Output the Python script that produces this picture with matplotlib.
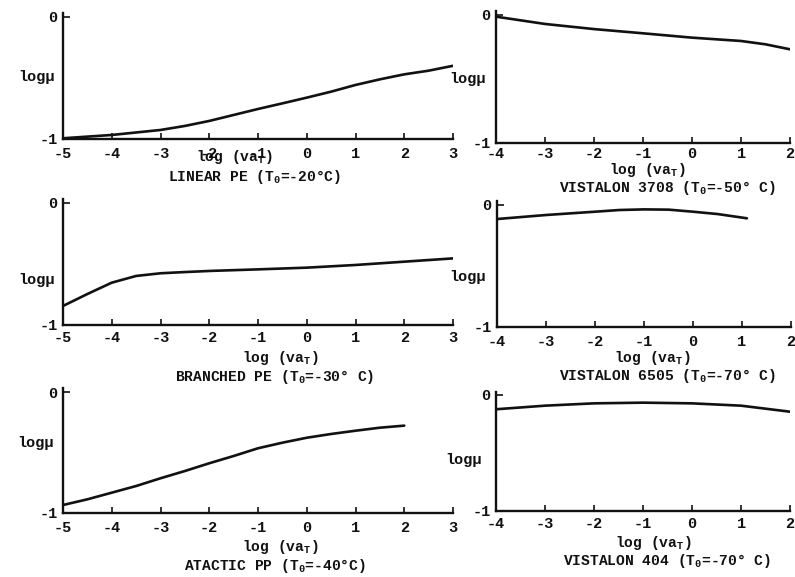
import matplotlib
matplotlib.use("Agg")
import matplotlib.pyplot as plt
from matplotlib.transforms import blended_transform_factory

plt.rcParams['font.family'] = ['Liberation Mono', 'DejaVu Sans Mono']
plt.rcParams['font.weight'] = 'bold'
plt.rcParams['mathtext.fontset'] = 'custom'
plt.rcParams['mathtext.rm'] = 'Liberation Mono:bold'
plt.rcParams['mathtext.it'] = 'Liberation Mono:italic:bold'
plt.rcParams['mathtext.bf'] = 'Liberation Mono:bold'

# ---- data ----
titles = ["LINEAR PE (T$_\\mathrm{0}$=-20°C)", "VISTALON 3708 (T$_\\mathrm{0}$=-50° C)",
          "BRANCHED PE (T$_\\mathrm{0}$=-30° C)", "VISTALON 6505 (T$_\\mathrm{0}$=-70° C)",
          "ATACTIC PP (T$_\\mathrm{0}$=-40°C)", "VISTALON 404 (T$_\\mathrm{0}$=-70° C)"]

x_lin_pe = [-5, -4, -3, -2.5, -2, -1.5, -1, -0.5, 0, 0.5, 1, 1.5, 2, 2.5, 3]
y_lin_pe = [-0.994, -0.967, -0.926, -0.893, -0.852, -0.803, -0.754, -0.708,
            -0.661, -0.612, -0.557, -0.511, -0.470, -0.44, -0.40]

x_v3708 = [-4, -3, -2, -1, 0, 1, 1.5, 2]
y_v3708 = [-0.013, -0.07, -0.11, -0.143, -0.177, -0.203, -0.229, -0.268]

x_br_pe = [-5, -4.5, -4, -3.5, -3, -2.5, -2, -1, 0, 1, 2, 3]
y_br_pe = [-0.844, -0.746, -0.653, -0.598, -0.576, -0.566, -0.557, -0.544,
           -0.530, -0.508, -0.481, -0.454]

x_v6505 = [-4, -3, -2, -1.5, -1, -0.5, 0, 0.5, 1.1]
y_v6505 = [-0.115, -0.082, -0.055, -0.041, -0.036, -0.038, -0.055, -0.074, -0.109]

x_at_pp = [-5, -4.5, -4, -3.5, -3, -2.5, -2, -1.5, -1, -0.5, 0, 0.5, 1, 1.5, 2]
y_at_pp = [-0.934, -0.887, -0.832, -0.777, -0.713, -0.653, -0.589, -0.529,
           -0.465, -0.419, -0.378, -0.347, -0.320, -0.295, -0.278]

x_v404 = [-4, -3, -2, -1, 0, 1, 1.5, 2]
y_v404 = [-0.123, -0.092, -0.072, -0.066, -0.072, -0.092, -0.118, -0.144]

left_ticks = [-5, -4, -3, -2, -1, 0, 1, 2, 3]
right_ticks = [-4, -3, -2, -1, 0, 1, 2]
y_ticks = [0, -1]

series = [(x_lin_pe, y_lin_pe), (x_v3708, y_v3708), (x_br_pe, y_br_pe),
          (x_v6505, y_v6505), (x_at_pp, y_at_pp), (x_v404, y_v404)]

# ---- layout (pixels) ----
W, H = 795, 577
# (left px, right px, y of 0 px, y of -1 px)
boxes = [(63, 453, 17, 139), (496, 790, 15, 143),
         (63, 453, 203, 325), (497, 791, 205, 327),
         (63, 453, 392, 513), (496, 790, 395, 511)]
xlims = [(-5, 3), (-4, 2)] * 3
ylab_pos = [(55, -0.49), (486, -0.5), (55, -0.63), (486, -0.59), (54, -0.42), (482, -0.56)]
xlab_pos = [(234, 157), (647, 170), (280, 358), (652, 358), (280, 547), (653, 543)]
title_pos = [(255, 177), (667, 188), (275, 377), (667, 376), (275, 566), (667, 561)]
tick_pads = [5.5, 3.0, 4.0, 6.0, 5.5, 4.5]

fig = plt.figure(figsize=(W / 100, H / 100), dpi=100)
ink = '#111111'
ytop = 0.03

for i in range(6):
    l, r, y0, y1 = boxes[i]
    per = (y1 - y0)
    top_px = y0 - ytop * per
    ax = fig.add_axes([l / W, 1 - y1 / H, (r - l) / W, (y1 - top_px) / H])
    xs, ys = series[i]
    ax.plot(xs, ys, color=ink, lw=1.9, solid_capstyle='round')
    ax.set_xlim(*xlims[i])
    ax.set_ylim(-1, ytop)
    ticks = left_ticks if i % 2 == 0 else right_ticks
    ax.set_xticks(ticks)
    ax.set_xticklabels([str(t) for t in ticks])
    ax.set_yticks(y_ticks)
    ax.set_yticklabels(['0', '-1'])
    for s in ['top', 'right']:
        ax.spines[s].set_visible(False)
    for s in ['left', 'bottom']:
        ax.spines[s].set_linewidth(1.7)
        ax.spines[s].set_color(ink)
    ax.tick_params(axis='x', direction='in', length=4, width=1.2, pad=tick_pads[i],
                   labelsize=11, colors=ink)
    ax.tick_params(axis='y', direction='in', length=5, width=1.2, pad=4,
                   labelsize=11, colors=ink)
    ax.patch.set_alpha(0)
    tr = blended_transform_factory(fig.transFigure, ax.transData)
    lx, ly = ylab_pos[i]
    ax.text(lx / W, ly, "logμ", transform=tr, ha='right', va='center',
            fontsize=11, color=ink)
    xx, xy = xlab_pos[i]
    fig.text(xx / W, 1 - xy / H, "log (va$_\\mathrm{T}$)", ha='center', va='center',
             fontsize=10.5, color=ink)
    tx, ty = title_pos[i]
    fig.text(tx / W, 1 - ty / H, titles[i], ha='center', va='center',
             fontsize=10.5, color=ink)

fig.savefig("out.png", dpi=100, facecolor='white')
